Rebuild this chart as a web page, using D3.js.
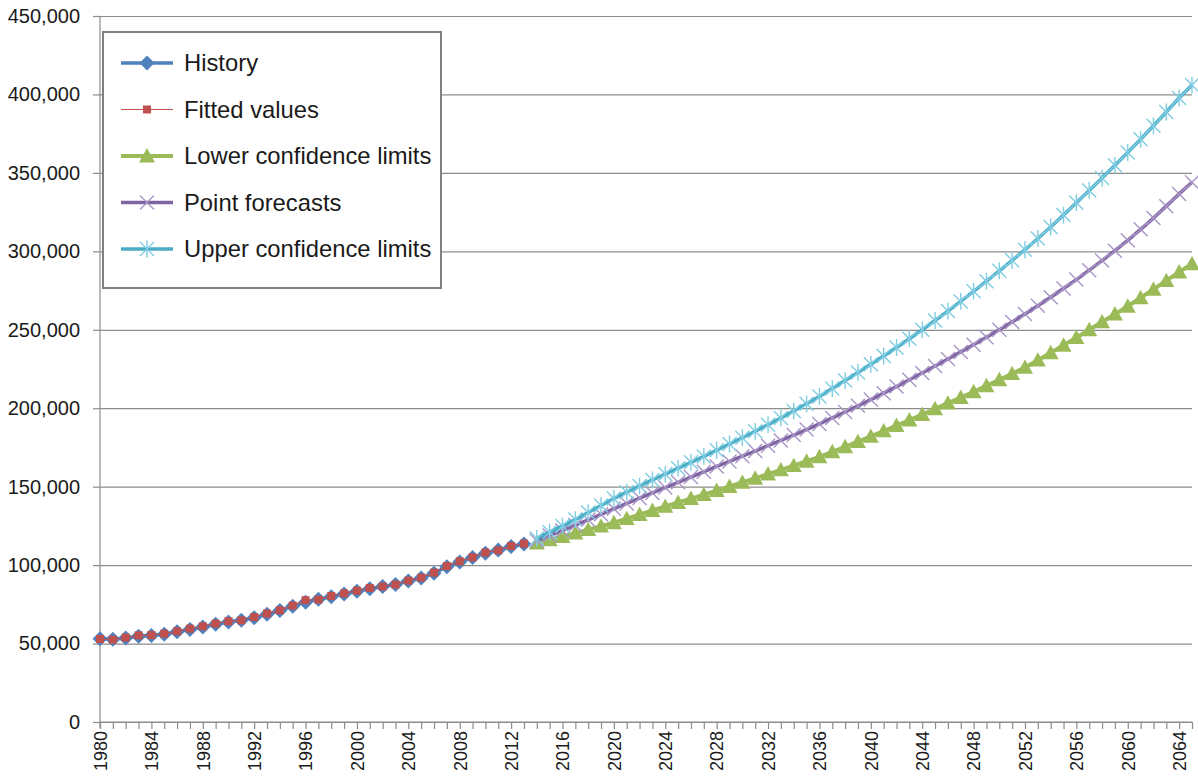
<!DOCTYPE html>
<html>
<head>
<meta charset="utf-8">
<script src="https://cdn.jsdelivr.net/npm/d3@7"></script>
<style>
  body { margin: 0; background: #fff; }
  svg { display: block; font-family: "Liberation Sans", Arial, sans-serif; }
</style>
</head>
<body>
<svg id="chart" width="1198" height="776"></svg>
<script>
// years on the category axis
var years = d3.range(1980, 2066);
var histYears = d3.range(1980, 2014);
var fcYears = d3.range(2014, 2066);

// values in thousands
var historyVals = [53.0, 52.8, 53.6, 54.6, 55.2, 56.0, 57.5, 59.0, 60.6, 62.3, 63.8, 64.9, 66.5, 68.6, 71.0, 73.8, 76.4,
  78.2, 79.9, 81.6, 83.3, 85.0, 86.4, 87.7, 89.8, 91.8, 94.8, 99.0, 102.0, 104.8, 107.6, 109.6, 111.8, 113.5];
var fittedVals = [52.9, 52.5, 53.8, 55.2, 55.4, 56.3, 57.8, 59.5, 61.0, 62.7, 64.2, 64.8, 66.9, 69.1, 71.2, 74.2, 77.6,
  78.0, 80.3, 82.0, 83.7, 85.4, 86.3, 87.6, 90.1, 92.0, 95.2, 99.4, 102.4, 105.0, 108.0, 109.4, 112.2, 113.7];
var lowerVals = [114.0, 116.1, 118.2, 120.4, 122.6, 124.8, 127.0, 129.6, 132.2, 134.8, 137.4, 139.9, 142.4, 144.9,
  147.5, 150.1, 152.7, 155.3, 158.0, 160.7, 163.4, 166.2, 169.0, 172.2, 175.4, 178.7, 182.0, 185.5, 189.0, 192.5,
  196.0, 199.6, 203.2, 206.8, 210.5, 214.3, 218.1, 222.0, 226.0, 230.6, 235.3, 240.1, 245.0, 250.0, 255.0, 260.0,
  265.0, 270.4, 275.8, 281.3, 286.8, 292.0];
var pointVals = [115.5, 118.8, 122.1, 125.5, 128.9, 132.4, 135.9, 139.3, 142.7, 146.0, 149.4, 152.8, 156.1, 159.5,
  162.9, 166.1, 169.4, 172.7, 176.1, 179.5, 182.9, 186.4, 190.0, 193.8, 197.6, 201.5, 205.5, 209.6, 213.8, 218.1,
  222.5, 226.9, 231.4, 235.9, 240.5, 245.2, 250.0, 255.0, 260.0, 265.3, 270.7, 276.3, 282.0, 288.0, 294.1, 300.4,
  307.0, 314.0, 321.2, 328.8, 336.6, 344.0];
var upperVals = [117.0, 121.0, 125.0, 129.0, 133.5, 138.0, 142.5, 146.5, 150.5, 154.3, 158.0, 161.8, 165.5, 169.3,
  173.2, 177.2, 181.2, 185.3, 189.5, 193.8, 198.2, 202.8, 207.5, 212.5, 217.6, 222.8, 228.0, 233.3, 238.7, 244.3,
  250.0, 255.9, 261.9, 268.1, 274.5, 281.0, 287.6, 294.3, 301.0, 308.2, 315.5, 323.1, 331.0, 338.8, 346.7, 354.8,
  363.0, 371.4, 380.0, 388.8, 397.8, 406.0];
var yTicks = [0, 50000, 100000, 150000, 200000, 250000, 300000, 350000, 400000, 450000];
var seriesNames = ["History", "Fitted values", "Lower confidence limits", "Point forecasts", "Upper confidence limits"];

var svg = d3.select("#chart");
var x = d3.scalePoint().domain(years).range([100, 1192]);
var y = d3.scaleLinear().domain([0, 450000]).range([722, 16]);

// markers
function diamond(s) { return "M0," + (-s) + "L" + s + ",0L0," + s + "L" + (-s) + ",0Z"; }
function square(s) { return "M" + (-s) + "," + (-s) + "h" + 2 * s + "v" + 2 * s + "h" + (-2 * s) + "Z"; }
function triangle(s) { return "M0," + (-s) + "L" + s + "," + (s * 0.8) + "L" + (-s) + "," + (s * 0.8) + "Z"; }
function cross(s) { return "M" + (-s) + "," + (-s) + "L" + s + "," + s + "M" + (-s) + "," + s + "L" + s + "," + (-s); }
function star(s) { return cross(s) + "M0," + (-s * 1.2) + "L0," + (s * 1.2); }

var series = [
  { name: seriesNames[0], xs: histYears, vals: historyVals, color: "#4F81BD", width: 3.5, mark: diamond, ms: 7.5, fill: "#4F81BD", stroke: "none" },
  { name: seriesNames[1], xs: histYears, vals: fittedVals, color: "#C0504D", width: 1.2, mark: square, ms: 4, fill: "#C0504D", stroke: "none" },
  { name: seriesNames[2], xs: fcYears, vals: lowerVals, color: "#9BBB59", width: 4, mark: triangle, ms: 8, fill: "#9BBB59", stroke: "none" },
  { name: seriesNames[3], xs: fcYears, vals: pointVals, color: "#8064A2", width: 3.5, mark: cross, ms: 7, fill: "none", stroke: "#a896c8" },
  { name: seriesNames[4], xs: fcYears, vals: upperVals, color: "#4BACC6", width: 3.5, mark: star, ms: 7, fill: "none", stroke: "#7fcde2" }
];

// gridlines
var grid = svg.append("g").attr("class", "grid")
  .attr("transform", "translate(100,0)")
  .call(d3.axisLeft(y).tickValues(yTicks).tickSize(-1092).tickFormat(""));
grid.selectAll("line").attr("stroke", "#8c8c8c").attr("stroke-width", 1.2);
grid.select(".domain").remove();

// y axis
var yAxis = svg.append("g").attr("transform", "translate(100,0)")
  .call(d3.axisLeft(y).tickValues(yTicks).tickSize(7).tickPadding(13).tickFormat(d3.format(",")));
yAxis.select(".domain").attr("stroke", "#8c8c8c").attr("stroke-width", 1.2).attr("d", "M0,16V728");
yAxis.selectAll(".tick line").attr("stroke", "#8c8c8c").attr("stroke-width", 1.2);
yAxis.selectAll("text").attr("fill", "#1a1a1a").style("font-size", "20px");

// x axis
var xAxis = svg.append("g").attr("transform", "translate(0,722)")
  .call(d3.axisBottom(x).tickSize(7).tickFormat(function(d) { return (d - 1980) % 4 === 0 ? d : ""; }));
xAxis.select(".domain").attr("stroke", "#8c8c8c").attr("stroke-width", 1.2).attr("d", "M100,0H1192");
xAxis.selectAll(".tick line").attr("stroke", "#8c8c8c").attr("stroke-width", 1.2);
xAxis.selectAll("text").attr("fill", "#1a1a1a").style("font-size", "18px")
  .attr("transform", "rotate(-90)").attr("text-anchor", "end").attr("dy", "0.35em").attr("x", -9).attr("y", 0);

// series
var plot = svg.append("g");
series.forEach(function(s) {
  var pts = s.xs.map(function(yr, i) { return [x(yr), y(s.vals[i] * 1000)]; });
  var g = plot.append("g");
  g.append("path").datum(pts)
    .attr("fill", "none").attr("stroke", s.color).attr("stroke-width", s.width)
    .attr("stroke-linejoin", "round").attr("d", d3.line());
  g.selectAll(".m").data(pts).enter().append("path")
    .attr("transform", function(d) { return "translate(" + d[0] + "," + d[1] + ")"; })
    .attr("d", s.mark(s.ms))
    .attr("fill", s.fill).attr("stroke", s.stroke).attr("stroke-width", 1.4);
});

// legend
var legend = svg.append("g").attr("transform", "translate(103,32)");
legend.append("rect").attr("width", 338).attr("height", 256)
  .attr("fill", "#fff").attr("stroke", "#808080").attr("stroke-width", 2);
series.forEach(function(s, i) {
  var row = legend.append("g").attr("transform", "translate(0," + (31 + i * 46.5) + ")");
  row.append("line").attr("x1", 18).attr("x2", 70)
    .attr("stroke", s.color).attr("stroke-width", s.width);
  row.append("path").attr("transform", "translate(44,0)").attr("d", s.mark(s.ms))
    .attr("fill", s.fill).attr("stroke", s.stroke).attr("stroke-width", 1.4);
  row.append("text").attr("x", 81).attr("dy", "0.35em")
    .attr("fill", "#1a1a1a").style("font-size", "23.8px").text(s.name);
});
</script>
</body>
</html>
